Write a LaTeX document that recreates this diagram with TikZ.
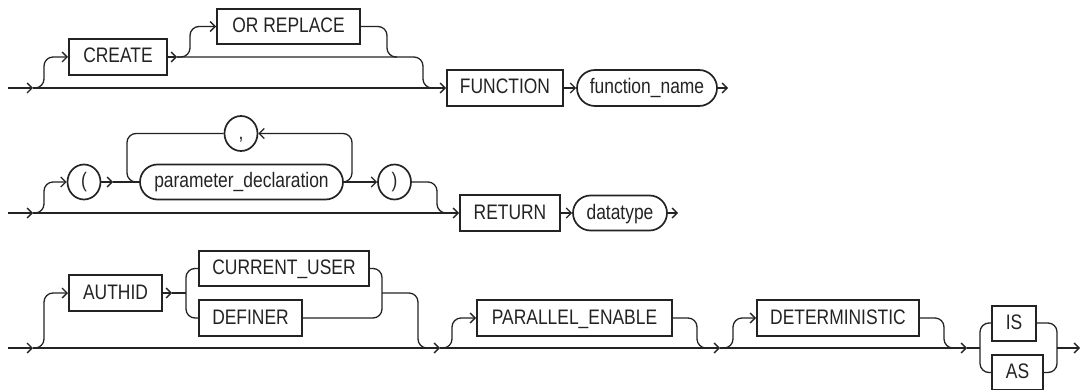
\documentclass[tikz,border=0pt]{standalone}
\usepackage{fontspec}
\setmainfont[FakeStretch=0.83]{Liberation Sans}
\usetikzlibrary{arrows.meta,shapes.misc,shapes.geometric}
\definecolor{ink}{RGB}{35,35,35}
\tikzset{
  kw/.style={draw=ink, line width=2pt, rectangle, inner sep=0pt, text=ink,
    font=\fontsize{21}{24}\selectfont, text height=15pt, text depth=3pt,
    minimum height=36pt},
  nt/.style={kw, rounded rectangle, line width=1.7pt},
  circ/.style={kw, ellipse, line width=1.7pt, minimum width=33pt, minimum height=35pt},
  conn/.style={draw=ink, line width=1.3pt, rounded corners=9pt},
  arr/.style={conn, -{Straight Barb[length=5pt,width=10pt]}},
}
\begin{document}
\begin{tikzpicture}[x=1pt,y=-1pt]
\useasboundingbox (0,0) rectangle (1089,390);

% ---------- row 1 ----------
\node[kw, minimum width=98pt] (create) at (118,57) {CREATE};
\node[kw, minimum width=143pt, minimum height=35pt] (orrep) at (288.5,26.5) {OR REPLACE};
\node[kw, minimum width=116pt] (func) at (505,88) {FUNCTION};
\node[nt, minimum width=140pt] (fname) at (647,88) {function\_name};

\coordinate (s1) at (8,88);
\coordinate (a1) at (33,88);
\coordinate (a2) at (177,57);
\coordinate (e1) at (728,88);

\draw[arr] (s1) -- (a1);
\draw[arr] (a1) -- (func.west);
\draw[arr] (a1) -| (44,57) -- (create.west);
\draw[arr] (create.east) -- (a2);
\draw[conn] (a2) -| (423,88) -- (437,88);
\draw[arr] (a2) -| (190,26.5) -- (orrep.west);
\draw[conn] (orrep.east) -| (387,57) -- (397,57);
\draw[arr] (func.east) -- (fname.west);
\draw[arr] (fname.east) -- (e1);

% ---------- row 2 ----------
\node[circ] (lp) at (84,182) {(};
\node[nt, minimum width=203pt, minimum height=35pt] (param) at (241.5,182) {parameter\_declaration};
\node[circ] (comma) at (241,133.5) {,};
\node[circ] (rp) at (394.5,182) {)};
\node[kw, minimum width=100pt, minimum height=35pt] (ret) at (510,213) {RETURN};
\node[nt, minimum width=94pt, minimum height=35pt] (dtype) at (620,213) {datatype};

\coordinate (s2) at (8,213);
\coordinate (a3) at (33,213);
\coordinate (a4) at (113,182);
\coordinate (e2) at (678,213);

\draw[arr] (s2) -- (a3);
\draw[arr] (a3) -- (ret.west);
\draw[arr] (a3) -| (44,182) -- (lp.west);
\draw[arr] (lp.east) -- (a4);
\draw[conn] (a4) -- (param.west);
\draw[arr] (param.east) -- (rp.west);
\draw[arr] (param.east) -| (352,133.5) -- (comma.east);
\draw[conn] (comma.west) -| (127,182) -- (param.west);
\draw[conn] (rp.east) -| (437,213) -- (448,213);
\draw[arr] (ret.east) -- (dtype.west);
\draw[arr] (dtype.east) -- (e2);

% ---------- row 3 ----------
\node[kw, minimum width=93pt] (auth) at (115.5,293) {AUTHID};
\node[kw, minimum width=170pt, minimum height=35pt] (cu) at (284,268.5) {CURRENT\_USER};
\node[kw, minimum width=103pt] (def) at (250.5,318) {DEFINER};
\node[kw, minimum width=195pt] (par) at (574.5,318) {PARALLEL\_ENABLE};
\node[kw, minimum width=162pt] (det) at (838,318) {DETERMINISTIC};
\node[kw, minimum width=44pt, minimum height=35pt] (is) at (1014,323) {IS};
\node[kw, minimum width=51pt, minimum height=35pt] (as) at (1017.5,372.5) {AS};

\coordinate (s3) at (8,348);
\coordinate (a5) at (33,348);
\coordinate (a6) at (172,293);
\coordinate (f0) at (186,293);
\coordinate (j0) at (382,293);
\coordinate (a7) at (440,348);
\coordinate (a8) at (720,348);
\coordinate (a9) at (967,348);
\coordinate (f1) at (980,348);
\coordinate (j1) at (1057,348);
\coordinate (e3) at (1080,348);

\draw[arr] (s3) -- (a5);
\draw[arr] (a5) -| (44,293) -- (auth.west);
\draw[arr] (a5) -- (a7);
\draw[arr] (a7) -- (a8);
\draw[arr] (a8) -- (a9);
\draw[conn] (a9) -- (f1);

\draw[arr] (auth.east) -- (a6);
\draw[conn] (a6) -- (f0);
\draw[conn] (cu.west) -| (f0) |- (def.west);
\draw[conn] (cu.east) -| (j0) |- (def.east);
\draw[conn] (j0) -| (418,348) -- (430,348);

\draw[arr] (a7) -| (452,318) -- (par.west);
\draw[conn] (par.east) -| (697,348) -- (708,348);
\draw[arr] (a8) -| (733,318) -- (det.west);
\draw[conn] (det.east) -| (944,348) -- (955,348);

\draw[conn] (is.west) -| (f1) |- (as.west);
\draw[conn] (is.east) -| (j1) |- (as.east);
\draw[arr] (j1) -- (e3);
\end{tikzpicture}
\end{document}
